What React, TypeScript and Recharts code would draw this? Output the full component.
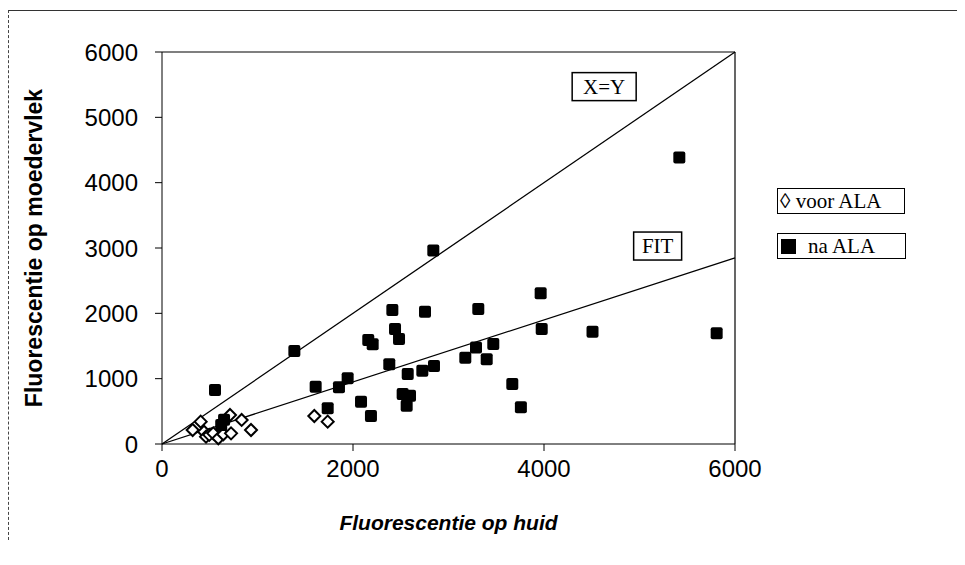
import React from "react";
import {
  ScatterChart,
  Scatter,
  XAxis,
  YAxis,
  ReferenceLine,
  ReferenceDot,
  Legend,
} from "recharts";

// voor ALA (open diamonds)
const voorX = [321, 405, 440, 461, 495, 537, 590, 642, 712, 723, 834, 932, 1595, 1735];
const voorY = [214, 342, 188, 112, 140, 163, 87, 148, 444, 163, 368, 214, 429, 342];

// na ALA (filled squares)
const naX = [
  555, 620, 650, 1386, 1609, 1735, 1853, 1944, 2084, 2160, 2206, 2188, 2380, 2412,
  2440, 2482, 2520, 2562, 2573, 2597, 2726, 2754, 2841, 2848, 3176, 3288, 3312,
  3400, 3469, 3668, 3758, 3965, 3976, 4508, 5417, 5808,
];
const naY = [
  827, 290, 370, 1424, 878, 547, 868, 1006, 648, 1593, 1527, 429, 1220, 2052,
  1761, 1608, 766, 587, 1072, 740, 1123, 2026, 2960, 1194, 1320, 1478, 2067,
  1297, 1530, 919, 562, 2307, 1760, 1720, 4384, 1695,
];

const xTicks = [0, 2000, 4000, 6000];
const yTicks = [0, 1000, 2000, 3000, 4000, 5000, 6000];

// lines: identity and fit through origin
const xyLine = [0, 6000];
const fitSlope = 0.475;

const voorData = voorX.map((x, i) => ({ x, y: voorY[i] }));
const naData = naX.map((x, i) => ({ x, y: naY[i] }));

const sans = "'Liberation Sans', Arial, sans-serif";
const serif = "'Liberation Serif', 'Times New Roman', serif";

const Diamond = (props: any) => {
  const { cx, cy } = props;
  const r = 6;
  return (
    <polygon
      points={`${cx},${cy - r} ${cx + r},${cy} ${cx},${cy + r} ${cx - r},${cy}`}
      fill="#fff"
      stroke="#000"
      strokeWidth={2}
    />
  );
};

const Square = (props: any) => {
  const { cx, cy } = props;
  return <rect x={cx - 6} y={cy - 6} width={12} height={12} rx={2} fill="#000" />;
};

const BoxLabel = (text: string, w: number) => (props: any) => {
  const { cx, cy } = props;
  return (
    <g>
      <rect x={cx - w / 2} y={cy - 14} width={w} height={28} fill="#fff" stroke="#000" strokeWidth={1.5} />
      <text x={cx} y={cy + 7} textAnchor="middle" fontFamily={serif} fontSize={21} fill="#000">
        {text}
      </text>
    </g>
  );
};

const LegendBoxes = () => (
  <div style={{ fontFamily: serif, fontSize: 21, color: "#000" }}>
    <div
      style={{
        width: 124,
        height: 24,
        border: "1.5px solid #000",
        lineHeight: "24px",
        paddingLeft: 2,
        marginBottom: 19,
        whiteSpace: "nowrap",
      }}
    >
      ◊ voor ALA
    </div>
    <div
      style={{
        width: 124,
        height: 24,
        border: "1.5px solid #000",
        lineHeight: "24px",
        paddingLeft: 3,
        display: "flex",
        alignItems: "center",
        whiteSpace: "nowrap",
      }}
    >
      <span style={{ display: "inline-block", width: 15, height: 15, background: "#000", marginRight: 12 }} />
      na ALA
    </div>
  </div>
);

export default function App() {
  return (
    <div style={{ position: "relative", width: 949, height: 549, background: "#fff" }}>
      <ScatterChart width={949} height={549} margin={{ top: 44, right: 222, bottom: 33, left: 94 }}>
        <XAxis
          type="number"
          dataKey="x"
          domain={[0, 6000]}
          ticks={xTicks}
          tickSize={7}
          tickMargin={9}
          height={80}
          stroke="#000"
          tick={{ fill: "#000", fontSize: 24, fontFamily: sans }}
          label={{
            value: "Fluorescentie op huid",
            position: "insideBottom",
            offset: -6,
            style: { fill: "#000", fontSize: 21, fontWeight: 700, fontStyle: "italic", fontFamily: sans },
          }}
        />
        <YAxis
          type="number"
          dataKey="y"
          domain={[0, 6000]}
          ticks={yTicks}
          tickSize={7}
          tickMargin={17}
          width={60}
          stroke="#000"
          tick={{ fill: "#000", fontSize: 24, fontFamily: sans }}
          label={{
            value: "Fluorescentie op moedervlek",
            angle: -90,
            position: "left",
            offset: 68,
            style: { fill: "#000", fontSize: 23, fontWeight: 700, fontFamily: sans, textAnchor: "middle" },
          }}
        />
        <ReferenceLine y={6000} stroke="#000" strokeWidth={1.2} />
        <ReferenceLine x={6000} stroke="#000" strokeWidth={1.2} />
        <ReferenceLine
          segment={[
            { x: xyLine[0], y: xyLine[0] },
            { x: xyLine[1], y: xyLine[1] },
          ]}
          stroke="#000"
          strokeWidth={1.3}
        />
        <ReferenceLine
          segment={[
            { x: 0, y: 0 },
            { x: 6000, y: 6000 * fitSlope },
          ]}
          stroke="#000"
          strokeWidth={1.3}
        />
        <Legend
          layout="vertical"
          align="center"
          verticalAlign="middle"
          content={<LegendBoxes />}
          wrapperStyle={{ left: 769, top: 180, width: 140 }}
        />
        <Scatter name="voor ALA" data={voorData} shape={<Diamond />} isAnimationActive={false} />
        <Scatter name="na ALA" data={naData} shape={<Square />} isAnimationActive={false} />
        <ReferenceDot x={4630} y={5470} r={0} shape={BoxLabel("X=Y", 64)} />
        <ReferenceDot x={5190} y={3030} r={0} shape={BoxLabel("FIT", 48)} />
      </ScatterChart>
      <div
        style={{
          position: "absolute",
          left: 0,
          top: 2,
          width: 949,
          height: 530,
          boxSizing: "border-box",
          borderTop: "1.5px solid #333",
          borderLeft: "1.5px dashed #444",
          pointerEvents: "none",
        }}
      />
    </div>
  );
}
